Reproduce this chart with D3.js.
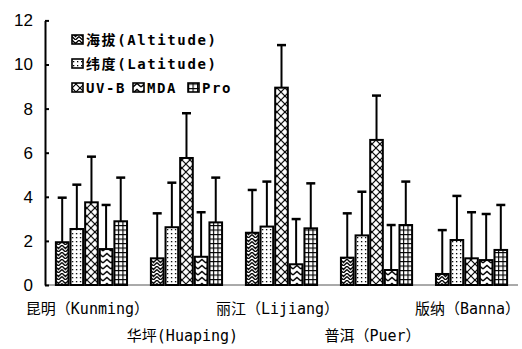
<!DOCTYPE html>
<html>
<head>
<meta charset="utf-8">
<script src="https://cdn.jsdelivr.net/npm/d3@7"></script>
<style>
  html, body { margin: 0; padding: 0; background: #fff; }
  svg { display: block; }
</style>
</head>
<body>
<svg id="chart" width="522" height="349"></svg>
<script>
// ---- data ----
const categories = ["昆明（Kunming）", "华坪(Huaping)", "丽江（Lijiang）", "普洱（Puer）", "版纳（Banna）"];
const seriesNames = ["海拔(Altitude)", "纬度(Latitude)", "UV-B", "MDA", "Pro"];
const altitude = [1.94, 1.21, 2.37, 1.24, 0.50];
const latitude = [2.54, 2.62, 2.65, 2.25, 2.04];
const uvb      = [3.75, 5.76, 8.95, 6.58, 1.21];
const mda      = [1.63, 1.28, 0.94, 0.68, 1.13];
const pro      = [2.89, 2.84, 2.57, 2.72, 1.59];
const altitudeErr = [2.02, 2.04, 1.94, 2.01, 1.99];
const latitudeErr = [2.01, 2.02, 2.04, 1.98, 2.00];
const uvbErr      = [2.07, 2.03, 1.93, 2.01, 2.09];
const mdaErr      = [2.00, 2.02, 2.05, 2.04, 2.09];
const proErr      = [1.98, 2.03, 2.04, 1.97, 2.04];
const yTicks = [0, 2, 4, 6, 8, 10, 12];

const seriesValues = [altitude, latitude, uvb, mda, pro];
const seriesErrors = [altitudeErr, latitudeErr, uvbErr, mdaErr, proErr];
const patternIds = ["pAlt", "pLat", "pUvb", "pMda", "pPro"];

const svg = d3.select("#chart");
const defs = svg.append("defs");

// ---- patterns ----
function pat(id, w, h) {
  const p = defs.append("pattern").attr("id", id).attr("patternUnits", "userSpaceOnUse")
    .attr("width", w).attr("height", h);
  p.append("rect").attr("width", w).attr("height", h).attr("fill", "#fff");
  return p;
}
// Altitude: herringbone zigzag
let p = pat("pAlt", 7, 7);
p.append("path").attr("d", "M0,0 L3.5,3.5 L7,0 M0,3.5 L3.5,7 L7,3.5")
  .attr("stroke", "#000").attr("stroke-width", 1.3).attr("fill", "none");
// Latitude: dots
p = pat("pLat", 4, 4);
p.append("rect").attr("x", 1).attr("y", 1).attr("width", 1.3).attr("height", 1.3).attr("fill", "#000");
// UV-B: diagonal crosshatch
p = pat("pUvb", 8, 8);
p.append("path").attr("d", "M0,0 L8,8 M8,0 L0,8")
  .attr("stroke", "#000").attr("stroke-width", 1.2).attr("fill", "none");
// MDA: chevrons
p = pat("pMda", 8, 6);
p.append("path").attr("d", "M0,5 L4,1.5 L8,5")
  .attr("stroke", "#000").attr("stroke-width", 1.4).attr("fill", "none");
// Pro: grid
p = pat("pPro", 4.5, 4.5);
p.append("path").attr("d", "M0,0.5 H4.5 M0.5,0 V4.5")
  .attr("stroke", "#000").attr("stroke-width", 1.3).attr("fill", "none");

// ---- scales ----
const y = d3.scaleLinear().domain([0, 12]).range([285, 20.4]);
const x0 = d3.scaleBand().domain(categories).range([45, 518]).paddingInner(0.23).paddingOuter(0.104);
const x1 = d3.scaleBand().domain(seriesNames).range([0, x0.bandwidth()]);

// ---- baseline ----
svg.append("line").attr("x1", 45).attr("x2", 518).attr("y1", y(0)).attr("y2", y(0))
  .attr("stroke", "#555").attr("stroke-width", 1);

// ---- bars ----
const groups = svg.append("g").selectAll("g").data(categories).join("g")
  .attr("transform", d => `translate(${x0(d)},0)`);

groups.each(function(cat, ci) {
  const g = d3.select(this);
  seriesNames.forEach((s, si) => {
    const v = seriesValues[si][ci];
    const e = seriesErrors[si][ci];
    const bx = x1(s), bw = x1.bandwidth();
    const cx = bx + bw / 2;
    // error bar
    g.append("line").attr("x1", cx).attr("x2", cx).attr("y1", y(v)).attr("y2", y(v + e))
      .attr("stroke", "#000").attr("stroke-width", 2);
    g.append("line").attr("x1", cx - 4.5).attr("x2", cx + 4.5).attr("y1", y(v + e)).attr("y2", y(v + e))
      .attr("stroke", "#000").attr("stroke-width", 2.5);
    g.append("rect").attr("x", bx + 1).attr("y", y(v)).attr("width", bw - 2).attr("height", y(0) - y(v))
      .attr("fill", `url(#${patternIds[si]})`).attr("stroke", "#000").attr("stroke-width", 2);
  });
});

// ---- y axis ----
const yAxis = d3.axisLeft(y).tickValues(yTicks).tickSize(-4).tickSizeOuter(0).tickPadding(12);
const ya = svg.append("g").attr("transform", "translate(45,0)").call(yAxis);
ya.select(".domain").attr("stroke", "#000").attr("stroke-width", 2);
ya.selectAll(".tick line").attr("stroke", "#000").attr("stroke-width", 2);
ya.selectAll(".tick text").attr("font-family", "'Liberation Sans', Arial, sans-serif")
  .attr("font-size", 17).attr("fill", "#000");

// ---- x labels ----
svg.append("g").selectAll("text").data(categories).join("text")
  .attr("x", d => x0(d) + x0.bandwidth() / 2 - 4)
  .attr("y", (d, i) => i % 2 === 0 ? 314 : 341)
  .attr("text-anchor", "middle")
  .attr("font-family", "'DejaVu Sans Mono', 'Noto Sans CJK SC', monospace")
  .attr("font-size", 15)
  .attr("fill", "#000")
  .text(d => d);

// ---- legend ----
const legendFont = "'DejaVu Sans Mono', 'Noto Sans CJK SC', monospace";
const legendItems = [
  { s: 0, x: 72, y: 40 },
  { s: 1, x: 72, y: 64 },
  { s: 2, x: 72, y: 88 },
  { s: 3, x: 133, y: 88 },
  { s: 4, x: 188, y: 88 }
];
const lg = svg.append("g").selectAll("g").data(legendItems).join("g")
  .attr("transform", d => `translate(${d.x},${d.y})`);
lg.append("rect").attr("x", 0).attr("y", -5).attr("width", 11).attr("height", 9)
  .attr("fill", d => `url(#${patternIds[d.s]})`).attr("stroke", "#000").attr("stroke-width", 1.6);
lg.append("text").attr("x", 14).attr("y", 5)
  .attr("font-family", legendFont).attr("font-size", 14).attr("font-weight", "bold")
  .attr("letter-spacing", 1.6).attr("fill", "#000")
  .text(d => seriesNames[d.s]);
</script>
</body>
</html>
